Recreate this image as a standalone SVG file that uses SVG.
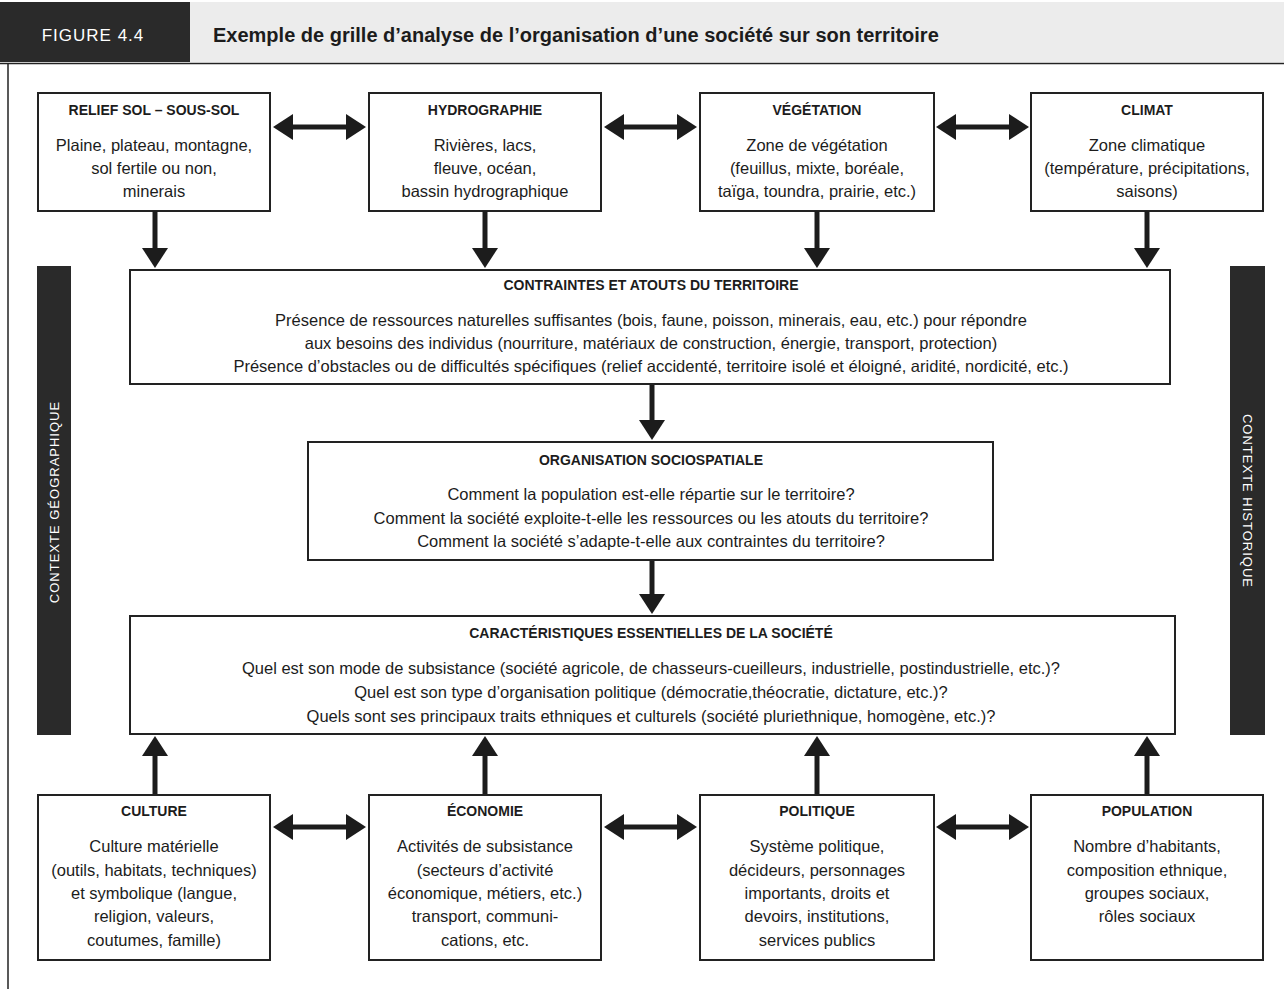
<svg xmlns="http://www.w3.org/2000/svg" width="1284" height="989" viewBox="0 0 1284 989">
<defs>
<marker id="ah" viewBox="0 0 20 26" markerWidth="20" markerHeight="26" refX="2" refY="13" orient="auto-start-reverse" markerUnits="userSpaceOnUse">
<path d="M0,0 L20,13 L0,26 z" fill="#1c1c1c"/>
</marker>
<style>
.box{fill:#fff;stroke:#222;stroke-width:2}
.t{font-family:"Liberation Sans",Arial,sans-serif;font-size:14px;font-weight:bold;fill:#1c1c1c;text-anchor:middle}
.b{font-family:"Liberation Sans",Arial,sans-serif;font-size:16.5px;fill:#1c1c1c;text-anchor:middle}
.c{stroke:#1c1c1c;stroke-width:5;fill:none}
.side{fill:#2a2a2a}
.st{font-family:"Liberation Sans",Arial,sans-serif;font-size:13px;fill:#fff;text-anchor:middle;letter-spacing:1px}
</style>
</defs>
<rect x="0" y="0" width="1284" height="989" fill="#fff"/>
<g id="header">
<rect x="190" y="2" width="1094" height="60" fill="#ececec"/>
<rect x="0" y="2" width="190" height="60" fill="#2a2a2a"/>
<text x="93" y="41" font-family="Liberation Sans,Arial,sans-serif" font-size="17" fill="#fff" text-anchor="middle" letter-spacing="1">FIGURE 4.4</text>
<text x="213" y="42" font-family="Liberation Sans,Arial,sans-serif" font-size="20" font-weight="bold" fill="#1c1c1c">Exemple de grille d’analyse de l’organisation d’une société sur son territoire</text>
<line x1="0" y1="63.5" x2="1284" y2="63.5" stroke="#222" stroke-width="1.5"/>
<line x1="8" y1="63" x2="8" y2="989" stroke="#222" stroke-width="1.5"/>
</g>
<g id="side-geo">
<rect class="side" x="37" y="266" width="34" height="469"/>
<text class="st" transform="translate(59,502) rotate(-90)">CONTEXTE GÉOGRAPHIQUE</text>
</g>
<g id="side-hist">
<rect class="side" x="1230" y="266" width="35" height="469"/>
<text class="st" transform="translate(1243,501) rotate(90)">CONTEXTE HISTORIQUE</text>
</g>
<g id="relief">
<rect class="box" x="38" y="93" width="232" height="118"/>
<text class="t" x="154" y="115">RELIEF SOL – SOUS-SOL</text>
<text class="b" x="154" y="151">Plaine, plateau, montagne,</text>
<text class="b" x="154" y="174">sol fertile ou non,</text>
<text class="b" x="154" y="197">minerais</text>
</g>
<g id="hydro">
<rect class="box" x="369" y="93" width="232" height="118"/>
<text class="t" x="485" y="115">HYDROGRAPHIE</text>
<text class="b" x="485" y="151">Rivières, lacs,</text>
<text class="b" x="485" y="174">fleuve, océan,</text>
<text class="b" x="485" y="197">bassin hydrographique</text>
</g>
<g id="vegetation">
<rect class="box" x="700" y="93" width="234" height="118"/>
<text class="t" x="817" y="115">VÉGÉTATION</text>
<text class="b" x="817" y="151">Zone de végétation</text>
<text class="b" x="817" y="174">(feuillus, mixte, boréale,</text>
<text class="b" x="817" y="197">taïga, toundra, prairie, etc.)</text>
</g>
<g id="climat">
<rect class="box" x="1031" y="93" width="232" height="118"/>
<text class="t" x="1147" y="115">CLIMAT</text>
<text class="b" x="1147" y="151">Zone climatique</text>
<text class="b" x="1147" y="174">(température, précipitations,</text>
<text class="b" x="1147" y="197">saisons)</text>
</g>
<g id="contraintes">
<rect class="box" x="130" y="270" width="1040" height="114"/>
<text class="t" x="651" y="290">CONTRAINTES ET ATOUTS DU TERRITOIRE</text>
<text class="b" x="651" y="326">Présence de ressources naturelles suffisantes (bois, faune, poisson, minerais, eau, etc.) pour répondre</text>
<text class="b" x="651" y="349">aux besoins des individus (nourriture, matériaux de construction, énergie, transport, protection)</text>
<text class="b" x="651" y="372">Présence d’obstacles ou de difficultés spécifiques (relief accidenté, territoire isolé et éloigné, aridité, nordicité, etc.)</text>
</g>
<g id="organisation">
<rect class="box" x="308" y="442" width="685" height="118"/>
<text class="t" x="651" y="465">ORGANISATION SOCIOSPATIALE</text>
<text class="b" x="651" y="500">Comment la population est-elle répartie sur le territoire?</text>
<text class="b" x="651" y="524">Comment la société exploite-t-elle les ressources ou les atouts du territoire?</text>
<text class="b" x="651" y="547">Comment la société s’adapte-t-elle aux contraintes du territoire?</text>
</g>
<g id="caracteristiques">
<rect class="box" x="130" y="616" width="1045" height="118"/>
<text class="t" x="651" y="638">CARACTÉRISTIQUES ESSENTIELLES DE LA SOCIÉTÉ</text>
<text class="b" x="651" y="674">Quel est son mode de subsistance (société agricole, de chasseurs-cueilleurs, industrielle, postindustrielle, etc.)?</text>
<text class="b" x="651" y="698">Quel est son type d’organisation politique (démocratie,théocratie, dictature, etc.)?</text>
<text class="b" x="651" y="722">Quels sont ses principaux traits ethniques et culturels (société pluriethnique, homogène, etc.)?</text>
</g>
<g id="culture">
<rect class="box" x="38" y="795" width="232" height="165"/>
<text class="t" x="154" y="816">CULTURE</text>
<text class="b" x="154" y="852">Culture matérielle</text>
<text class="b" x="154" y="876">(outils, habitats, techniques)</text>
<text class="b" x="154" y="899">et symbolique (langue,</text>
<text class="b" x="154" y="922">religion, valeurs,</text>
<text class="b" x="154" y="946">coutumes, famille)</text>
</g>
<g id="economie">
<rect class="box" x="369" y="795" width="232" height="165"/>
<text class="t" x="485" y="816">ÉCONOMIE</text>
<text class="b" x="485" y="852">Activités de subsistance</text>
<text class="b" x="485" y="876">(secteurs d’activité</text>
<text class="b" x="485" y="899">économique, métiers, etc.)</text>
<text class="b" x="485" y="922">transport, communi-</text>
<text class="b" x="485" y="946">cations, etc.</text>
</g>
<g id="politique">
<rect class="box" x="700" y="795" width="234" height="165"/>
<text class="t" x="817" y="816">POLITIQUE</text>
<text class="b" x="817" y="852">Système politique,</text>
<text class="b" x="817" y="876">décideurs, personnages</text>
<text class="b" x="817" y="899">importants, droits et</text>
<text class="b" x="817" y="922">devoirs, institutions,</text>
<text class="b" x="817" y="946">services publics</text>
</g>
<g id="population">
<rect class="box" x="1031" y="795" width="232" height="165"/>
<text class="t" x="1147" y="816">POPULATION</text>
<text class="b" x="1147" y="852">Nombre d’habitants,</text>
<text class="b" x="1147" y="876">composition ethnique,</text>
<text class="b" x="1147" y="899">groupes sociaux,</text>
<text class="b" x="1147" y="922">rôles sociaux</text>
</g>
<g id="connectors">
<line class="c" x1="291" y1="127" x2="348" y2="127" marker-start="url(#ah)" marker-end="url(#ah)"/>
<line class="c" x1="622" y1="127" x2="679" y2="127" marker-start="url(#ah)" marker-end="url(#ah)"/>
<line class="c" x1="954" y1="127" x2="1011" y2="127" marker-start="url(#ah)" marker-end="url(#ah)"/>
<line class="c" x1="155" y1="211" x2="155" y2="250" marker-end="url(#ah)"/>
<line class="c" x1="485" y1="211" x2="485" y2="250" marker-end="url(#ah)"/>
<line class="c" x1="817" y1="211" x2="817" y2="250" marker-end="url(#ah)"/>
<line class="c" x1="1147" y1="211" x2="1147" y2="250" marker-end="url(#ah)"/>
<line class="c" x1="652" y1="385" x2="652" y2="422" marker-end="url(#ah)"/>
<line class="c" x1="652" y1="561" x2="652" y2="596" marker-end="url(#ah)"/>
<line class="c" x1="155" y1="794" x2="155" y2="754" marker-end="url(#ah)"/>
<line class="c" x1="485" y1="794" x2="485" y2="754" marker-end="url(#ah)"/>
<line class="c" x1="817" y1="794" x2="817" y2="754" marker-end="url(#ah)"/>
<line class="c" x1="1147" y1="794" x2="1147" y2="754" marker-end="url(#ah)"/>
<line class="c" x1="291" y1="827" x2="348" y2="827" marker-start="url(#ah)" marker-end="url(#ah)"/>
<line class="c" x1="622" y1="827" x2="679" y2="827" marker-start="url(#ah)" marker-end="url(#ah)"/>
<line class="c" x1="954" y1="827" x2="1011" y2="827" marker-start="url(#ah)" marker-end="url(#ah)"/>
</g>
</svg>
